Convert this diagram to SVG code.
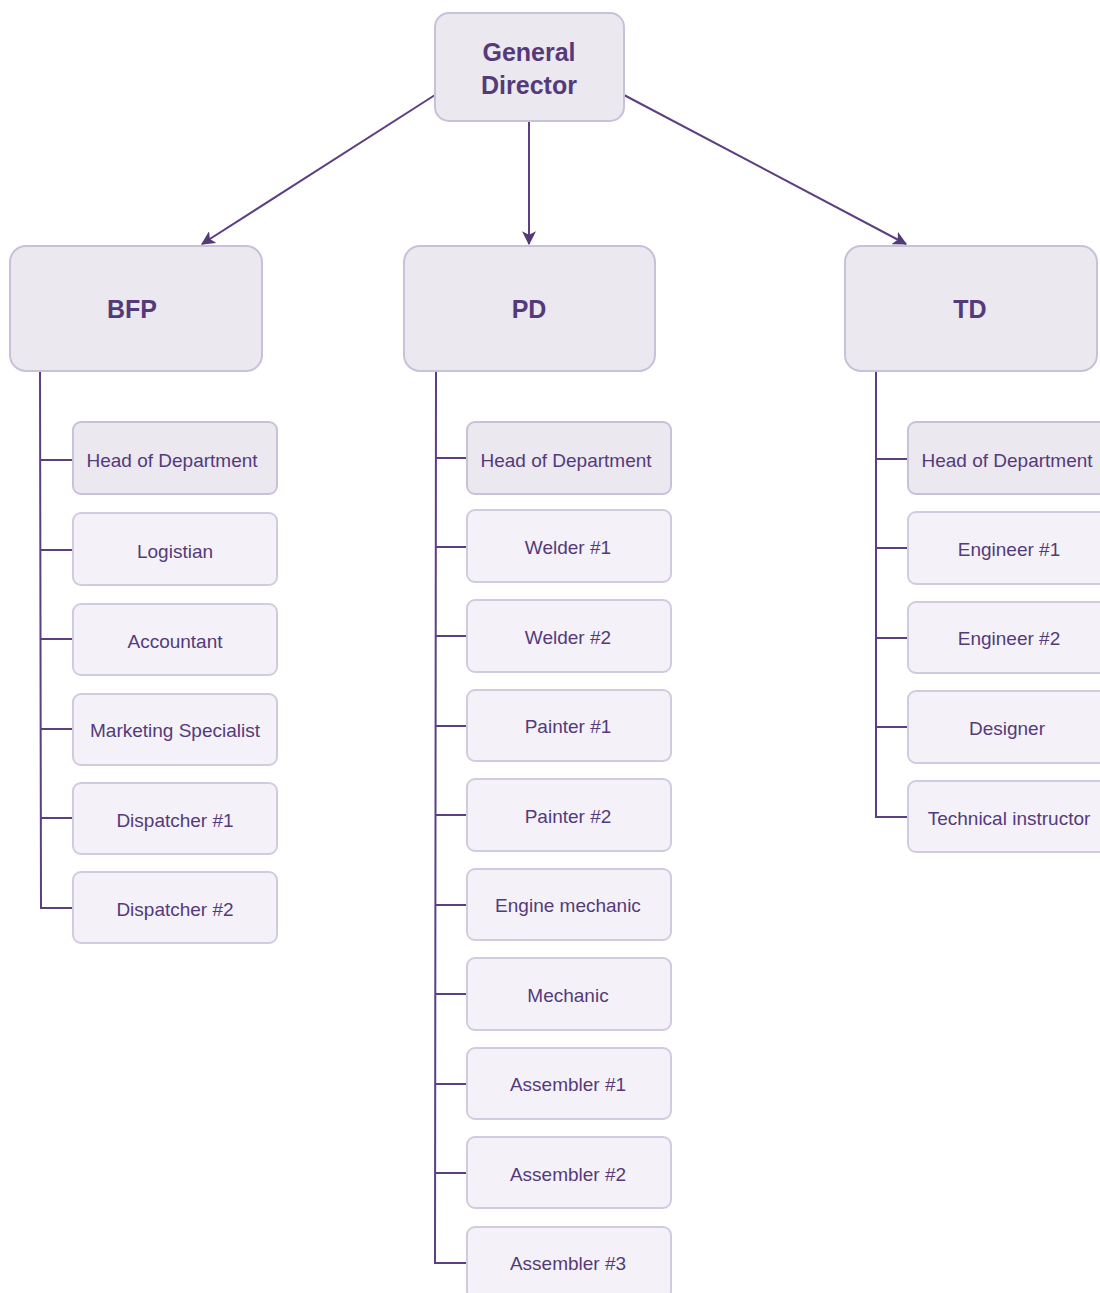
<svg xmlns="http://www.w3.org/2000/svg" width="1100" height="1293" viewBox="0 0 1100 1293">
<defs>
<marker id="ah" viewBox="0 0 12 12" refX="11" refY="6" markerWidth="14" markerHeight="14" markerUnits="userSpaceOnUse" orient="auto">
<path d="M0,0 L12,6 L0,12 L3,6 Z" fill="#553a7a"/>
</marker>
<style>
.big{fill:#ebe8f0;stroke:#c9c0d9;stroke-width:2}
.head{fill:#ebe8f0;stroke:#c9c0d9;stroke-width:2}
.ch{fill:#f4f2f8;stroke:#d2cbe0;stroke-width:2}
.tb{font-family:"Liberation Sans",Arial,sans-serif;font-weight:bold;font-size:25px;fill:#553a7a;text-anchor:middle}
.tc{font-family:"Liberation Sans",Arial,sans-serif;font-size:19px;fill:#553a7a;text-anchor:middle}
.ln{fill:none;stroke:#5b3f80;stroke-width:2}
</style>
</defs>
<rect width="1100" height="1293" fill="#ffffff"/>
<g id="connectors">
<path class="ln" d="M435,95 L202,244" marker-end="url(#ah)"/>
<path class="ln" d="M529,121 L529,244" marker-end="url(#ah)"/>
<path class="ln" d="M624,95 L906,244" marker-end="url(#ah)"/>
<path class="ln" d="M40,371 L41,908 L73,908"/>
<path class="ln" d="M41,460 H73 M41,550 H73 M41,639 H73 M41,729 H73 M41,818 H73"/>
<path class="ln" d="M436,371 L435,1263 L467,1263"/>
<path class="ln" d="M435,458 H467 M435,547 H467 M435,636 H467 M435,726 H467 M435,815 H467 M435,905 H467 M435,994 H467 M435,1084 H467 M435,1173 H467"/>
<path class="ln" d="M876,371 L876,817 L908,817"/>
<path class="ln" d="M876,459 H908 M876,548 H908 M876,638 H908 M876,727 H908"/>
</g>
<g id="general-director"><rect class="big" x="435" y="13" width="189" height="108" rx="14"/><text class="tb" x="529" y="61">General</text><text class="tb" x="529" y="94">Director</text></g>
<g id="bfp"><rect class="big" x="10" y="246" width="252" height="125" rx="16"/><text class="tb" x="132" y="318">BFP</text></g>
<g id="pd"><rect class="big" x="404" y="246" width="251" height="125" rx="16"/><text class="tb" x="529" y="318">PD</text></g>
<g id="td"><rect class="big" x="845" y="246" width="252" height="125" rx="16"/><text class="tb" x="970" y="318">TD</text></g>

<g id="bfp-head"><rect class="head" x="73" y="422" width="204" height="72" rx="8"/><text class="tc" x="172" y="467">Head of Department</text></g>
<g id="bfp-logistian"><rect class="ch" x="73" y="513" width="204" height="72" rx="8"/><text class="tc" x="175" y="558">Logistian</text></g>
<g id="bfp-accountant"><rect class="ch" x="73" y="604" width="204" height="71" rx="8"/><text class="tc" x="175" y="648">Accountant</text></g>
<g id="bfp-marketing"><rect class="ch" x="73" y="694" width="204" height="71" rx="8"/><text class="tc" x="175" y="737">Marketing Specialist</text></g>
<g id="bfp-dispatcher1"><rect class="ch" x="73" y="783" width="204" height="71" rx="8"/><text class="tc" x="175" y="827">Dispatcher #1</text></g>
<g id="bfp-dispatcher2"><rect class="ch" x="73" y="872" width="204" height="71" rx="8"/><text class="tc" x="175" y="916">Dispatcher #2</text></g>

<g id="pd-head"><rect class="head" x="467" y="422" width="204" height="72" rx="8"/><text class="tc" x="566" y="467">Head of Department</text></g>
<g id="pd-welder1"><rect class="ch" x="467" y="510" width="204" height="72" rx="8"/><text class="tc" x="568" y="554">Welder #1</text></g>
<g id="pd-welder2"><rect class="ch" x="467" y="600" width="204" height="72" rx="8"/><text class="tc" x="568" y="644">Welder #2</text></g>
<g id="pd-painter1"><rect class="ch" x="467" y="690" width="204" height="71" rx="8"/><text class="tc" x="568" y="733">Painter #1</text></g>
<g id="pd-painter2"><rect class="ch" x="467" y="779" width="204" height="72" rx="8"/><text class="tc" x="568" y="823">Painter #2</text></g>
<g id="pd-engine-mechanic"><rect class="ch" x="467" y="869" width="204" height="71" rx="8"/><text class="tc" x="568" y="912">Engine mechanic</text></g>
<g id="pd-mechanic"><rect class="ch" x="467" y="958" width="204" height="72" rx="8"/><text class="tc" x="568" y="1002">Mechanic</text></g>
<g id="pd-assembler1"><rect class="ch" x="467" y="1048" width="204" height="71" rx="8"/><text class="tc" x="568" y="1091">Assembler #1</text></g>
<g id="pd-assembler2"><rect class="ch" x="467" y="1137" width="204" height="71" rx="8"/><text class="tc" x="568" y="1181">Assembler #2</text></g>
<g id="pd-assembler3"><rect class="ch" x="467" y="1227" width="204" height="72" rx="8"/><text class="tc" x="568" y="1270">Assembler #3</text></g>

<g id="td-head"><rect class="head" x="908" y="422" width="204" height="72" rx="8"/><text class="tc" x="1007" y="467">Head of Department</text></g>
<g id="td-engineer1"><rect class="ch" x="908" y="512" width="204" height="72" rx="8"/><text class="tc" x="1009" y="556">Engineer #1</text></g>
<g id="td-engineer2"><rect class="ch" x="908" y="602" width="204" height="71" rx="8"/><text class="tc" x="1009" y="645">Engineer #2</text></g>
<g id="td-designer"><rect class="ch" x="908" y="691" width="204" height="72" rx="8"/><text class="tc" x="1007" y="735">Designer</text></g>
<g id="td-tech-instructor"><rect class="ch" x="908" y="781" width="204" height="71" rx="8"/><text class="tc" x="1009" y="825">Technical instructor</text></g>
</svg>
